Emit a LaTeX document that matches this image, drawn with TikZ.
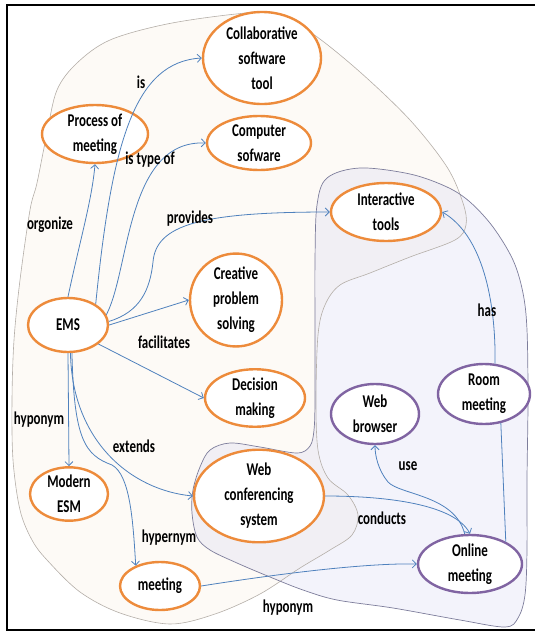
\documentclass[tikz,border=0pt]{standalone}
\usepackage{fontspec}
\setmainfont{Carlito}[FakeStretch=0.72]
\usetikzlibrary{arrows.meta,shapes.geometric}

\definecolor{conceptline}{RGB}{237,139,59}
\definecolor{toolline}{RGB}{128,100,162}
\definecolor{linkblue}{RGB}{79,129,189}
\definecolor{creamfill}{RGB}{253,250,246}
\definecolor{lavfill}{RGB}{205,205,238}
\definecolor{creamline}{RGB}{180,174,168}
\definecolor{lavline}{RGB}{125,125,155}

\begin{document}
\begin{tikzpicture}[x=1pt,y=-1pt,
  every node/.style={font=\fontsize{18}{25}\selectfont\bfseries, align=center, inner sep=0pt, text=black},
  concept/.style={ellipse, draw=conceptline, line width=2.4pt, fill=white},
  toolnode/.style={ellipse, draw=toolline, line width=2.4pt, fill=white},
  rel/.style={draw=linkblue, line width=0.8pt, -{Straight Barb[length=4pt,width=8pt]}},
  plainrel/.style={draw=linkblue, line width=0.8pt},
  creamzone/.style={fill=creamfill},
  lavzone/.style={fill=lavfill, fill opacity=0.24},
  creamedge/.style={draw=creamline, line width=0.6pt},
  lavedge/.style={draw=lavline, line width=0.7pt}
]
\useasboundingbox (0,0) rectangle (535,632);

% ---- the two overlapping zones ----
\def\creampath{plot[smooth cycle, tension=0.55] coordinates {
  (236,14) (275,13) (313,34) (360,72) (410,120) (447,167) (463,203) (466,225)
  (455,240) (410,257) (370,273) (340,285) (325,305) (318,335) (316,400) (318,450)
  (328,478) (348,495) (358,515) (352,535) (330,550) (300,568) (260,594) (215,614)
  (170,624) (120,613) (80,592) (47,560) (32,540) (20,510) (13,460) (12,400)
  (14,340) (20,280) (30,210) (37,183) (47,133) (57,90) (77,63) (110,40) (167,24)}}
\def\lavpath{plot[smooth cycle, tension=0.55] coordinates {
  (327,178) (360,168) (410,174) (447,187) (470,202) (493,227) (513,260) (523,293)
  (527,330) (528,400) (527,480) (527,550) (525,595) (518,618) (505,627) (460,620)
  (393,608) (337,600) (303,590) (270,577) (237,563) (210,550) (197,537) (192,513)
  (193,490) (200,467) (210,450) (230,443) (260,447) (297,453) (310,446) (314,430)
  (315,400) (315,330) (315,260) (317,205)}}

\path[creamzone] \creampath;
\path[lavzone] \lavpath;
\path[creamedge] \creampath;
\path[lavedge] \lavpath;

% ---- frame ----
\draw[line width=2pt] (536,5) -- (6.5,5) -- (6.5,629.5) -- (536,629.5);

% ---- concepts ----
\node[concept, minimum width=118pt, minimum height=92pt] (collab) at (262,58) {Collaborative\\software\\tool};
\node[concept, minimum width=106pt, minimum height=58pt] (pom) at (95,134) {Process of\\meeting};
\node[concept, minimum width=104pt, minimum height=54pt] (comp) at (259,143) {Computer\\sofware};
\node[concept, minimum width=110pt, minimum height=58pt] (inter) at (386,212) {Interactive\\tools};
\node[concept, minimum width=80pt, minimum height=54pt] (ems) at (68,325) {EMS};
\node[concept, minimum width=92pt, minimum height=92pt] (crea) at (236,300) {Creative\\problem\\solving};
\node[concept, minimum width=100pt, minimum height=54pt] (dec) at (255,398) {Decision\\making};
\node[toolnode, minimum width=88pt, minimum height=60pt] (wb) at (375,414) {Web\\browser};
\node[toolnode, minimum width=92pt, minimum height=60pt] (rm) at (484,394) {Room\\meeting};
\node[concept, minimum width=78pt, minimum height=52pt] (mesm) at (69,494) {Modern\\ESM};
\node[concept, minimum width=130pt, minimum height=78pt] (wcs) at (259,496) {Web\\conferencing\\system};
\node[concept, minimum width=80pt, minimum height=48pt] (meet) at (160,586) {meeting};
\node[toolnode, minimum width=104pt, minimum height=58pt] (onl) at (470,564) {Online\\meeting};

% ---- relations ----
\draw[rel] (ems.north) .. controls (80,240) and (92,200) .. (pom.south);
\draw[rel] (ems.37) .. controls (112,140) and (135,62) .. (collab.west);
\draw[rel] (ems.15) .. controls (130,270) and (126,140) .. (comp.west);
\draw[rel] (ems.5) .. controls (140,312) and (150,290) .. (153,262)
                   .. controls (156,225) and (200,212) .. (inter.west);
\draw[rel] (ems.east) -- (crea.west);
\draw[rel] (ems.-32) -- (dec.west);
\draw[rel] (ems.south) -- (mesm.north);
\draw[rel] (ems.-85) .. controls (72,440) and (130,490) .. (wcs.west);
\draw[rel] (ems.-82) .. controls (74,440) and (85,455) .. (112,465)
                     .. controls (130,475) and (133,520) .. (meet.140);
\draw[rel] (meet.east) .. controls (290,572) and (370,563) .. (onl.west);
\draw[rel] (wcs.east) .. controls (390,496) and (455,505) .. (onl.90);
\draw[rel] (onl.100) .. controls (455,495) and (400,495) .. (388,482)
                     .. controls (378,470) and (375,455) .. (wb.south);
\draw[rel] (rm.70) .. controls (496,300) and (482,235) .. (inter.east);
\draw[plainrel] (rm.-60) -- (onl.32);

% ---- relation labels ----
\node (l-is) at (141,82) {is};
\node (l-istype) at (150,160) {is type of};
\node (l-org) at (50,225) {orgonize};
\node (l-prov) at (190,219) {provides};
\node (l-fac) at (164,342) {facilitates};
\node (l-hypo1) at (39,420) {hyponym};
\node (l-ext) at (134,446) {extends};
\node (l-hyper) at (169,538) {hypernym};
\node (l-hypo2) at (288,608) {hyponym};
\node (l-cond) at (382,518) {conducts};
\node (l-use) at (408,466) {use};
\node (l-has) at (487,310) {has};
\end{tikzpicture}
\end{document}
